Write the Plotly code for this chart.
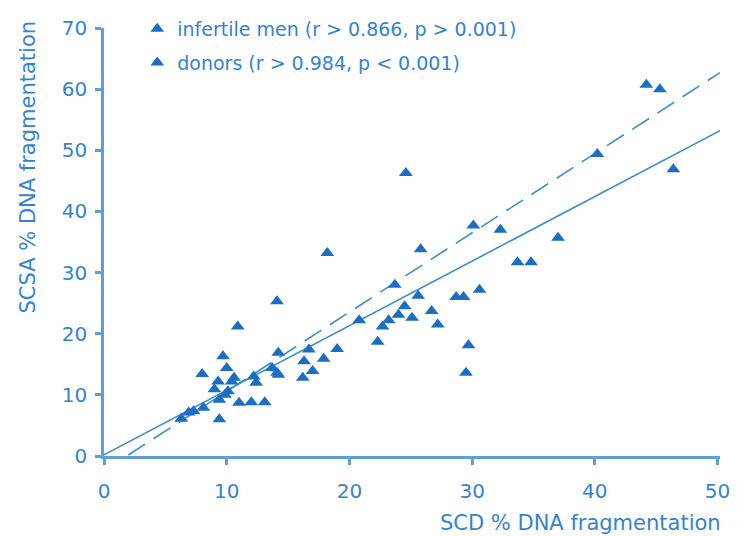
import plotly.graph_objects as go

# SCD vs SCSA DNA fragmentation (%), two groups
infertile_scd = [44.2, 45.3, 40.2, 46.4, 37.0, 33.7, 34.8, 32.3, 30.1, 24.6, 25.8, 18.2,
                 14.1, 10.9, 20.8, 19.0, 16.7, 17.9, 16.3, 17.0, 14.2, 9.7, 10.0, 14.1,
                 13.7, 16.2, 23.7, 25.6, 30.6, 28.7, 29.3, 24.5, 26.7, 24.0, 25.1, 23.2,
                 22.7, 27.2, 22.3, 29.7, 29.5]
infertile_scsa = [60.7, 60.0, 49.4, 46.9, 35.7, 31.7, 31.7, 37.0, 37.7, 46.3, 33.8, 33.2,
                  25.3, 21.2, 22.2, 17.5, 17.4, 15.9, 15.5, 13.9, 16.9, 16.3, 14.4, 13.6,
                  14.4, 12.8, 28.0, 26.2, 27.2, 26.0, 26.0, 24.5, 23.7, 23.1, 22.6, 22.2,
                  21.2, 21.5, 18.7, 18.1, 13.6]

donor_scd = [12.2, 10.6, 8.0, 9.3, 10.4, 9.0, 10.1, 9.4, 9.85, 12.4, 14.2, 11.0, 12.0,
             13.1, 9.4, 8.1, 7.3, 6.9, 6.3]
donor_scsa = [13.0, 12.8, 13.4, 12.2, 12.2, 10.9, 10.6, 9.2, 10.0, 12.0, 13.3, 8.7, 8.8,
              8.8, 6.0, 7.9, 7.3, 7.1, 6.1]

# Regression lines (end points)
fit_infertile_x = [0.0, 50.2]
fit_infertile_y = [0.2, 53.2]
fit_donor_x = [1.98, 50.2]
fit_donor_y = [0.16, 62.7]

x_ticks = [0, 10, 20, 30, 40, 50]
y_ticks = [0, 10, 20, 30, 40, 50, 60, 70]

legend_labels = ["infertile men (r > 0.866, p > 0.001)",
                 "donors (r > 0.984, p < 0.001)"]

BLUE = "#1a6fc4"
TEXT = "#3384cf"
AXIS = "#5d9fd9"
FONT = "DejaVu Sans"

fig = go.Figure()

fig.add_trace(go.Scatter(
    x=fit_infertile_x, y=fit_infertile_y, mode="lines",
    line=dict(color="#3d8bd4", width=1.6),
    showlegend=False, hoverinfo="skip"))
fig.add_trace(go.Scatter(
    x=fit_donor_x, y=fit_donor_y, mode="lines",
    line=dict(color="#3d8bd4", width=1.6, dash="20px,10px"),
    showlegend=False, hoverinfo="skip"))

fig.add_trace(go.Scatter(
    x=infertile_scd, y=infertile_scsa, mode="markers", name=legend_labels[0],
    legendgroup="a",
    marker=dict(symbol="triangle-up", size=12, color=BLUE, line=dict(width=0))))
fig.add_trace(go.Scatter(
    x=donor_scd, y=donor_scsa, mode="markers", name=legend_labels[1],
    legendgroup="b",
    marker=dict(symbol="triangle-up", size=12, color=BLUE, line=dict(width=0))))

axis_common = dict(
    showline=True, linecolor=AXIS, linewidth=2.5,
    ticks="outside", ticklen=6, tickwidth=2.5, tickcolor=AXIS,
    showgrid=False, zeroline=False,
    tickfont=dict(family=FONT, size=20, color=TEXT),
)

fig.update_layout(
    width=737, height=536,
    margin=dict(l=104, r=17, t=28, b=80, autoexpand=False),
    paper_bgcolor="white", plot_bgcolor="white",
    font=dict(family=FONT, color=TEXT),
    xaxis=dict(range=[0, 50.2], tickvals=x_ticks, ticklabelstandoff=9, **axis_common),
    yaxis=dict(range=[0, 70], tickvals=y_ticks, ticklabelstandoff=4, **axis_common),
    legend=dict(x=0.054, y=1.042, xanchor="left", yanchor="top",
                font=dict(family=FONT, size=19, color=TEXT),
                tracegroupgap=6, bgcolor="rgba(0,0,0,0)"),
    annotations=[
        dict(text="SCD % DNA fragmentation", xref="paper", yref="paper",
             x=1.005, y=-0.157, xanchor="right", yanchor="middle", showarrow=False,
             font=dict(family=FONT, size=21, color=TEXT)),
        dict(text="SCSA % DNA fragmentation", xref="paper", yref="paper",
             x=-0.1234, y=1.0234, xanchor="center", yanchor="top", textangle=-90,
             showarrow=False, font=dict(family=FONT, size=21, color=TEXT)),
    ],
)

fig.write_html("out.html")
